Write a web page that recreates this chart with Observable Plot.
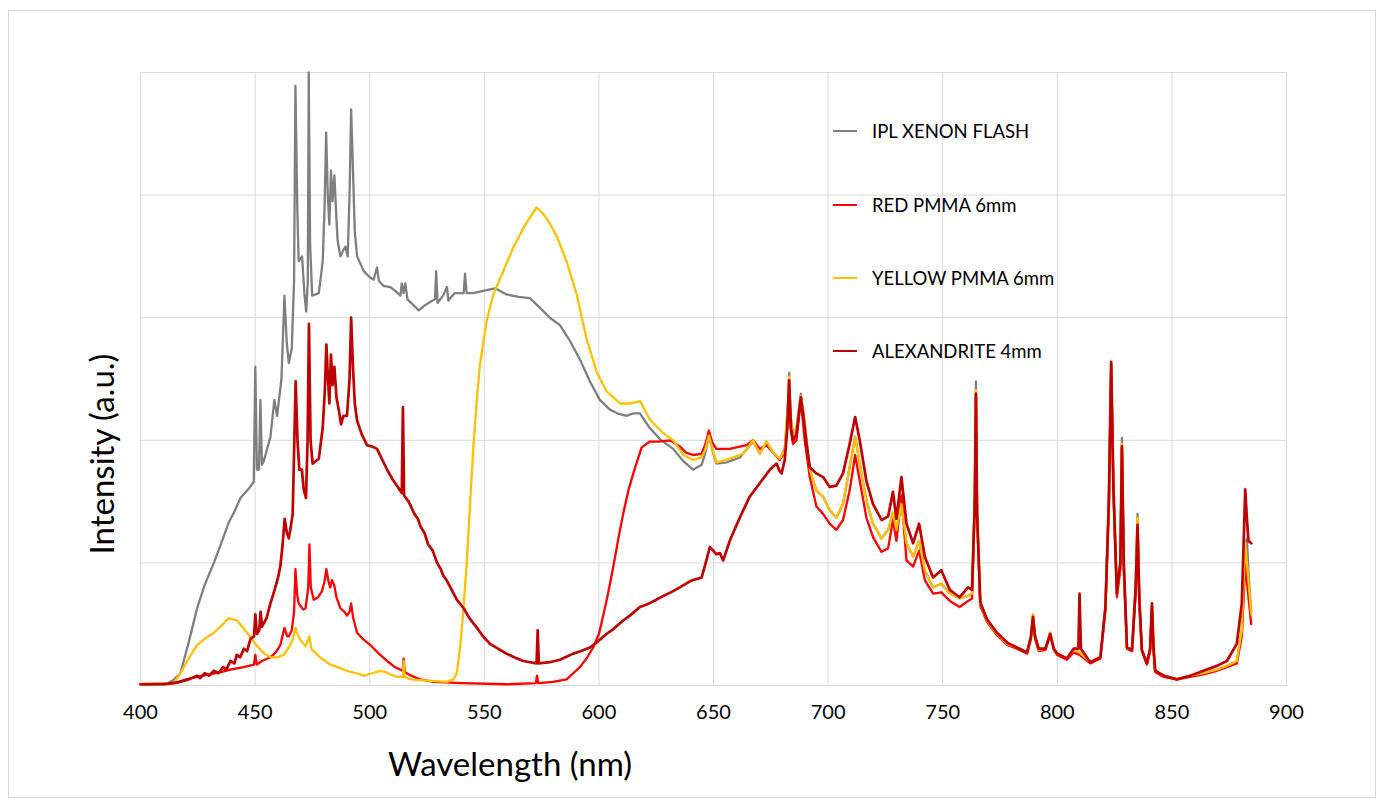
<!DOCTYPE html>
<html>
<head>
<meta charset="utf-8">
<script src="https://cdn.jsdelivr.net/npm/d3@7"></script>
<script src="https://cdn.jsdelivr.net/npm/@observablehq/plot@0.6"></script>
<style>
  html, body { margin: 0; padding: 0; background: #fff; }
  #wrap { position: relative; width: 1382px; height: 809px; font-family: Lato, "Open Sans", sans-serif; color: #000; }
  #border { position: absolute; left: 8px; top: 10px; width: 1368px; height: 788px; border: 1px solid #d9d9d9; box-sizing: border-box; }
  #chart { position: absolute; left: 0; top: 0; }
  .title { position: absolute; white-space: nowrap; }
  #xtitle { left: 510px; top: 763px; transform: translate(-50%, -50%); font-size: 33px; }
  #ytitle { left: 101px; top: 454px; transform: translate(-50%, -50%) rotate(-90deg); font-size: 33px; }
  #legend { position: absolute; left: 833px; top: 0; }
  .lg { position: absolute; left: 0; display: flex; align-items: center; white-space: nowrap; font-size: 18.5px; transform: translateY(-50%); }
  .sw { width: 24px; height: 2.5px; margin-right: 15px; }
</style>
</head>
<body>
<div id="wrap">
  <div id="border"></div>
  <div id="chart"></div>
  <div class="title" id="xtitle">Wavelength (nm)</div>
  <div class="title" id="ytitle">Intensity (a.u.)</div>
  <div id="legend"></div>
</div>
<script>
// ---- tick labels ----
const xTicks = [400, 450, 500, 550, 600, 650, 700, 750, 800, 850, 900];
const yGrid = [0, 1, 2, 3, 4, 5];

// ---- series names & colours ----
const seriesNames = ["IPL XENON FLASH", "RED PMMA 6mm", "YELLOW PMMA 6mm", "ALEXANDRITE 4mm"];
const seriesColors = ["#7f7f7f", "#ff0000", "#ffc000", "#c00000"];

// ---- IPL XENON FLASH [nm, intensity] ----
const xenon = [
[400,0.01],[411,0.01],[414,0.04],[417.4,0.1],[421,0.35],[424.7,0.63],[428,0.82],[432,1.0],[436,1.2],[438.5,1.33],[441,1.42],[443.6,1.53],[447,1.6],[449.4,1.66],
[450.1,2.6],[450.8,1.76],[451.7,1.76],[452.3,2.33],[453,1.8],[453.8,1.83],[456.7,2.03],[458.4,2.33],[459.6,2.2],[461.5,2.5],[462.8,3.18],[463.8,2.8],[464.7,2.63],[466,2.75],[467,3.3],
[467.6,4.89],[468.4,3.9],[469,3.46],[470.5,3.5],[471.5,3.2],[472.3,3.05],[473,3.3],[473.4,5.0],[474,3.6],[474.9,3.18],[477.8,3.2],[479.5,3.46],[480.3,3.9],[481,4.51],[481.7,4.0],
[482.4,3.76],[483.1,4.2],[483.8,3.95],[484.6,4.16],[485.5,3.8],[486,3.63],[487.2,3.5],[488.5,3.55],[489.4,3.58],[490.4,3.5],[491.2,4.0],[491.9,4.7],[492.7,4.2],[493.5,3.7],[494.5,3.5],
[497.4,3.38],[500,3.33],[501.7,3.31],[503.2,3.41],[504,3.3],[506,3.26],[509,3.25],[511,3.22],[513.4,3.18],[514,3.28],[514.8,3.2],[515.5,3.28],[516.5,3.15],[521.4,3.06],[524,3.1],
[526.5,3.13],[528.5,3.15],[529,3.38],[529.6,3.12],[532,3.18],[533.7,3.25],[534.3,3.14],[537,3.2],[541,3.2],[541.6,3.36],[542.3,3.2],[545.2,3.2],[550,3.22],[554.7,3.24],[559.7,3.19],
[565,3.17],[569.9,3.16],[574.3,3.08],[578.6,3.0],[583,2.94],[587.4,2.81],[591.7,2.66],[596.1,2.48],[600.4,2.33],[604.8,2.25],[608,2.22],[612.1,2.2],[615,2.22],[617.9,2.22],[622.2,2.1],
[626.6,2.01],[632.4,1.93],[636.8,1.83],[641.1,1.76],[644.8,1.8],[646.5,1.9],[648,2.04],[649.5,1.92],[651.3,1.81],[655.7,1.82],[661.5,1.86],[667.3,1.99],[670.2,1.89],[673.1,1.99],
[676,1.9],[678.9,1.85],[681.1,1.93],[682.5,2.3],[683,2.55],[683.6,2.2],[684.7,2.05],[686.2,2.1],[688.1,2.38],[689.8,2.14],[692,1.76],[694.9,1.59],[697.8,1.54],[700.7,1.43],
[703.6,1.37],[706.5,1.48],[709.4,1.78],[711.8,2.03],[713.8,1.81],[716.7,1.51],[719.6,1.32],[723.3,1.2],[726.2,1.27],[728.3,1.41],[729.8,1.27],[732,1.48],[734.2,1.16],[737.1,1.05],
[739.7,1.18],[742.2,0.94],[745.8,0.8],[749.4,0.83],[753.1,0.75],[757.4,0.71],[761.1,0.73],[762.8,0.75],[764,1.5],[764.5,2.48],[765,1.4],[766.4,0.67],[769.3,0.53],[773.7,0.42],
[778.1,0.34],[782.4,0.31],[786.8,0.27],[788.5,0.4],[789.4,0.58],[790.3,0.4],[791.9,0.29],[794.8,0.3],[796.9,0.43],[798.5,0.3],[799.9,0.26],[804.2,0.22],[807.1,0.29],[809.7,0.27],
[814.4,0.19],[818.8,0.23],[821,0.64],[822.5,1.5],[823.5,2.62],[824.5,1.6],[826,0.75],[827.5,1.0],[828.2,2.02],[829,1.0],[830.4,0.31],[832.6,0.29],[834.2,0.8],[835,1.4],[835.8,0.7],
[836.9,0.29],[839.1,0.18],[840.5,0.3],[841.3,0.65],[842,0.3],[842.7,0.12],[846.4,0.08],[852.2,0.05],[858,0.08],[863.8,0.1],[869.6,0.13],[874,0.16],[878.3,0.2],[880.5,0.45],
[882,1.1],[882.7,1.2],[883.5,0.9],[884.6,0.6]
];

// ---- RED PMMA 6mm [nm, intensity] ----
const redPmma = [
[400,0.01],[415,0.02],[420,0.05],[424.7,0.07],[430,0.09],[435,0.11],[439.2,0.13],[445,0.15],[449.5,0.17],[450.1,0.25],[450.7,0.17],[453,0.2],[456.7,0.23],[459,0.27],[461,0.33],
[462.8,0.47],[464,0.4],[464.7,0.4],[466,0.45],[467,0.6],[467.6,0.95],[468.3,0.75],[469,0.67],[471,0.62],[472,0.63],[473.2,0.8],[473.7,1.15],[474.3,0.8],[475.6,0.7],[477.5,0.72],
[479.2,0.77],[480.3,0.85],[481.1,0.95],[482,0.85],[482.8,0.8],[483.5,0.86],[484.5,0.82],[485.5,0.72],[487.2,0.63],[489,0.6],[490.1,0.57],[491.2,0.6],[491.9,0.67],[492.8,0.55],
[494.5,0.43],[497,0.38],[500.3,0.33],[504,0.26],[507.6,0.2],[511,0.15],[514.4,0.12],[514.8,0.22],[515.3,0.11],[518,0.08],[522.1,0.05],[528,0.03],[540,0.02],[560,0.01],[572.5,0.02],
[573,0.08],[573.5,0.02],[580,0.03],[585.9,0.05],[588.8,0.1],[591.7,0.15],[594.6,0.22],[597.5,0.31],[600,0.42],[602,0.58],[604,0.75],[606.3,0.97],[608.5,1.2],[610.6,1.4],[613,1.6],
[615,1.73],[618.6,1.94],[622.2,1.99],[626,1.99],[631,2.0],[635.3,1.95],[638,1.9],[641.1,1.88],[644.8,1.89],[646.5,1.97],[648,2.08],[649.5,1.98],[651.3,1.93],[657.1,1.93],
[664.4,1.96],[667.3,2.0],[670.2,1.93],[673.1,1.96],[676,1.9],[678.9,1.84],[681.1,1.9],[682.5,2.2],[683,2.41],[683.6,2.1],[684.7,1.97],[686.2,2.0],[688.1,2.33],[689.8,2.0],
[692,1.7],[694.9,1.46],[697.8,1.4],[700.7,1.32],[703.6,1.27],[706.5,1.35],[709.4,1.59],[711.8,1.88],[713.8,1.67],[716.7,1.37],[719.6,1.21],[723.3,1.09],[726.2,1.12],[728.3,1.35],
[729.8,1.18],[732,1.55],[734.2,1.02],[737.1,0.97],[739.7,1.1],[742.2,0.86],[745.8,0.75],[749.4,0.76],[753.1,0.69],[757.4,0.64],[761.1,0.69],[762.8,0.71],[764,1.5],[764.5,2.36],
[765,1.4],[766.4,0.65],[769.3,0.52],[773.7,0.41],[778.1,0.33],[782.4,0.3],[786.8,0.26],[788.5,0.38],[789.4,0.55],[790.3,0.38],[791.9,0.28],[794.8,0.29],[796.9,0.41],[798.5,0.29],
[799.9,0.25],[804.2,0.21],[807.1,0.27],[809.7,0.25],[814.4,0.18],[818.8,0.22],[821,0.62],[822.5,1.5],[823.5,2.6],[824.5,1.6],[826,0.72],[827.5,0.95],[828.2,1.93],[829,0.95],
[830.4,0.3],[832.6,0.28],[834.2,0.75],[835,1.3],[835.8,0.65],[836.9,0.28],[839.1,0.17],[840.5,0.28],[841.3,0.62],[842,0.28],[842.7,0.11],[846.4,0.07],[852.2,0.05],[858,0.07],
[863.8,0.09],[869.6,0.12],[874,0.15],[878.3,0.18],[880.5,0.4],[882,0.99],[883,0.8],[884.6,0.5]
];

// ---- YELLOW PMMA 6mm [nm, intensity] ----
const yellowPmma = [
[400,0.01],[414.5,0.02],[417.4,0.1],[421,0.22],[424.7,0.33],[428,0.38],[432,0.43],[436,0.5],[438.5,0.55],[442.2,0.53],[446.5,0.43],[450.9,0.32],[454,0.26],[456.7,0.23],[460,0.23],
[462.5,0.25],[465,0.32],[466.5,0.38],[467.6,0.47],[468.5,0.42],[469.8,0.37],[472,0.32],[473.7,0.4],[474.5,0.3],[476,0.27],[479,0.22],[482.8,0.17],[486,0.15],[490.1,0.12],[494,0.1],
[497.4,0.08],[501,0.1],[504.7,0.12],[507,0.11],[509,0.09],[511.9,0.07],[514.5,0.07],[514.8,0.2],[515.2,0.07],[518,0.05],[525,0.04],[533.7,0.03],[536.5,0.05],[538,0.1],[539.4,0.3],
[540.8,0.6],[542.3,0.99],[543.7,1.45],[545.2,1.94],[546.6,2.3],[548.1,2.62],[551,2.97],[553.9,3.19],[558.3,3.38],[562.6,3.57],[567,3.73],[570,3.82],[572.8,3.9],[575,3.86],
[577.2,3.81],[581.5,3.67],[585.9,3.46],[590.3,3.19],[594.6,2.83],[599,2.56],[603.3,2.4],[606.3,2.35],[609.2,2.3],[613.5,2.3],[617.9,2.32],[622.2,2.17],[628,2.06],[632.4,2.0],
[636.8,1.88],[641.1,1.84],[644.8,1.86],[646.5,1.93],[648,2.04],[649.5,1.93],[651.3,1.82],[657.1,1.85],[662.9,1.89],[667.3,2.0],[670.2,1.89],[673.1,1.99],[676,1.9],[678.9,1.85],
[681.1,1.92],[682.5,2.3],[683,2.52],[683.6,2.2],[684.7,2.05],[686.2,2.1],[688.1,2.36],[689.8,2.14],[692,1.76],[694.9,1.59],[697.8,1.54],[700.7,1.43],[703.6,1.37],[706.5,1.48],
[709.4,1.78],[711.8,2.03],[713.8,1.81],[716.7,1.51],[719.6,1.32],[723.3,1.2],[726.2,1.27],[728.3,1.41],[729.8,1.27],[732,1.48],[734.2,1.16],[737.1,1.05],[739.7,1.18],[742.2,0.94],
[745.8,0.8],[749.4,0.83],[753.1,0.75],[757.4,0.71],[761.1,0.73],[762.8,0.75],[764,1.5],[764.5,2.41],[765,1.4],[766.4,0.67],[769.3,0.53],[773.7,0.42],[778.1,0.34],[782.4,0.31],
[786.8,0.27],[788.5,0.4],[789.4,0.58],[790.3,0.4],[791.9,0.29],[794.8,0.3],[796.9,0.43],[798.5,0.3],[799.9,0.26],[804.2,0.22],[807.1,0.29],[809.7,0.27],[814.4,0.19],[818.8,0.23],
[821,0.64],[822.5,1.5],[823.5,2.62],[824.5,1.6],[826,0.75],[827.5,1.0],[828.2,1.97],[829,1.0],[830.4,0.31],[832.6,0.29],[834.2,0.8],[835,1.37],[835.8,0.7],[836.9,0.29],[839.1,0.18],
[840.5,0.3],[841.3,0.65],[842,0.3],[842.7,0.12],[846.4,0.08],[852.2,0.05],[858,0.08],[863.8,0.1],[869.6,0.13],[874,0.16],[878.3,0.2],[880.5,0.45],[882,1.16],[883,0.95],[884.6,0.58]
];

// ---- ALEXANDRITE 4mm [nm, intensity] ----
const alexandrite = [
[400,0.01],[410,0.01],[414,0.02],[417.4,0.03],[421,0.05],[424.7,0.08],[426,0.06],[428,0.1],[430,0.08],[432,0.12],[434,0.1],[436,0.15],[437.5,0.13],[439.2,0.2],[441,0.18],[442,0.25],
[443.5,0.23],[445.1,0.3],[446.5,0.28],[448,0.38],[449.5,0.4],[450.1,0.58],
[450.8,0.42],[451.8,0.45],[452.4,0.6],[453,0.48],[455,0.55],[456.7,0.67],[458.5,0.78],[460,0.88],[461,0.97],[462,1.15],[462.9,1.36],[463.8,1.25],[464.7,1.2],[465.6,1.3],[466.4,1.4],
[467,1.9],[467.7,2.48],[468.5,2.0],[469.3,1.76],[470.4,1.76],[471.2,1.6],[472.2,1.53],[472.9,2.0],[473.5,2.95],[474.2,2.0],[475.1,1.81],[477.8,1.85],[479.5,2.1],[480.4,2.4],
[481.1,2.78],[481.8,2.5],[482.4,2.3],[483.1,2.7],[483.8,2.45],[484.6,2.6],[485.5,2.35],[486.5,2.25],[487.5,2.13],[488.5,2.2],[490.1,2.2],[491.2,2.5],[491.9,3.0],[492.7,2.6],
[493.5,2.3],[494.5,2.16],[496.5,2.05],[498.8,1.96],[501,1.95],[503.2,1.93],[505.5,1.84],[507.6,1.76],[510,1.68],[511.9,1.63],[514,1.57],[514.5,2.27],[515,1.55],[517,1.5],
[519.5,1.4],[521,1.36],[522.1,1.3],[524,1.24],[525.5,1.15],[527.5,1.1],[529.4,1.0],[531,0.95],[532,0.9],[533.5,0.86],[535.2,0.8],[538,0.7],[541,0.63],[543.5,0.55],[546.8,0.47],
[549.5,0.4],[552.5,0.34],[556,0.3],[559.7,0.26],[563,0.23],
[567,0.2],[570,0.19],[572.8,0.18],[573.3,0.45],[573.8,0.18],[578.6,0.19],[583,0.21],[588.8,0.26],[592,0.28],[596.1,0.31],[599,0.35],[603.3,0.42],[606.3,0.46],[610.6,0.53],
[613.5,0.57],[617.9,0.64],[620.8,0.66],[625.1,0.7],[628.1,0.73],[632.4,0.77],[635.3,0.8],[639.7,0.85],[641.1,0.86],[644.8,0.88],[646.9,1.02],[648.4,1.13],[649.9,1.1],[651.3,1.07],
[652.8,1.08],[654.2,1.02],[657.1,1.18],[661.5,1.37],[665.8,1.54],[670.2,1.65],[674.6,1.76],[677.5,1.81],[678.8,1.75],[679.7,1.73],[681.1,1.84],[682.2,2.1],[683,2.49],[683.8,2.1],
[684.7,2.0],[686.2,2.05],[688.1,2.35],[689.2,2.2],[690.6,1.97],[692,1.78],[694.9,1.73],[697.8,1.7],[700.7,1.62],[703.6,1.63],[706.5,1.73],[709.4,1.97],[711.8,2.19],[713.8,2.0],
[716.7,1.67],[719.6,1.48],[723.3,1.35],[726.2,1.38],[728.3,1.58],[729.8,1.36],[732,1.7],[734.2,1.32],[737.1,1.16],[739.7,1.32],[742.2,1.05],[745.8,0.88],[749.4,0.94],[753.1,0.78],
[757.4,0.72],[761.1,0.8],[762.8,0.78],[764,1.5],[764.5,2.38],[765,1.4],[766.4,0.68],[769.3,0.54],[773.7,0.43],[778.1,0.35],[782.4,0.31],[786.8,0.27],[788.5,0.4],[789.4,0.56],
[790.3,0.4],[791.9,0.3],[794.8,0.3],[796.9,0.42],[798.5,0.3],[799.9,0.26],[804.2,0.22],[807.1,0.3],[809.2,0.3],[809.7,0.75],[810.3,0.3],[814.4,0.19],[818.8,0.23],[821,0.64],
[822.5,1.5],[823.5,2.64],[824.5,1.6],[826,0.75],[827.5,1.0],[828.2,1.95],[829,1.0],[830.4,0.31],[832.6,0.29],[834.2,0.8],[835,1.31],[835.8,0.7],[836.9,0.29],[839.1,0.18],
[840.5,0.3],[841.3,0.67],[842,0.3],[842.7,0.12],[846.4,0.08],[852.2,0.05],[858,0.08],[863.8,0.12],[869.6,0.16],[874,0.2],[878.3,0.34],[880.5,0.67],[882,1.6],[882.7,1.37],
[883.4,1.18],[884.6,1.16]
];

const seriesData = [xenon, redPmma, yellowPmma, alexandrite];
const seriesWidths = [2.3, 2.3, 2.3, 2.7];

const chart = Plot.plot({
  width: 1382,
  height: 809,
  marginLeft: 140,
  marginRight: 96,
  marginTop: 72,
  marginBottom: 124,
  style: { fontFamily: "Lato, 'Open Sans', sans-serif", background: "transparent" },
  x: { domain: [400, 900], axis: null },
  y: { domain: [0, 5], axis: null },
  marks: [
    Plot.gridY(yGrid, { stroke: "#d9d9d9", strokeOpacity: 1, strokeWidth: 1 }),
    Plot.gridX(xTicks, { stroke: "#d9d9d9", strokeOpacity: 1, strokeWidth: 1 }),
    Plot.frame({ stroke: "#d9d9d9" }),
    Plot.axisX(xTicks, { tickSize: 0, tickPadding: 19, fontSize: 20, label: null, color: "#000" }),
    ...seriesData.map((data, i) =>
      Plot.line(data, { x: d => d[0], y: d => d[1], stroke: seriesColors[i], strokeWidth: seriesWidths[i], strokeLinejoin: "round" })
    )
  ]
});
document.getElementById("chart").appendChild(chart);

// legend
const legend = document.getElementById("legend");
const legendRows = [131, 205, 278, 351];
seriesNames.forEach((name, i) => {
  const row = document.createElement("div");
  row.className = "lg";
  row.style.top = legendRows[i] + "px";
  const sw = document.createElement("div");
  sw.className = "sw";
  sw.style.background = seriesColors[i];
  const tx = document.createElement("span");
  tx.textContent = name;
  row.appendChild(sw);
  row.appendChild(tx);
  legend.appendChild(row);
});
</script>
</body>
</html>
